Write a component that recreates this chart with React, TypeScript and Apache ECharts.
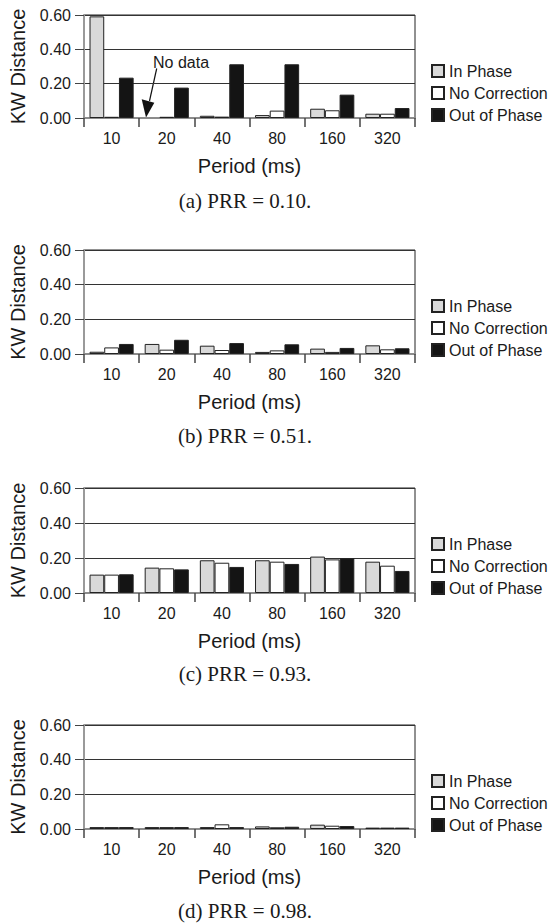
import React, { useEffect, useRef } from 'react';
import * as echarts from 'echarts';

const categories = ['10', '20', '40', '80', '160', '320'];
const seriesNames = ['In Phase', 'No Correction', 'Out of Phase'];
const yTicks = [0, 0.2, 0.4, 0.6];

// (a) PRR = 0.10
const aInPhase = [0.592, null, 0.013, 0.017, 0.054, 0.025];
const aNoCorrection = [0.007, 0.007, 0.008, 0.043, 0.045, 0.025];
const aOutOfPhase = [0.235, 0.177, 0.313, 0.313, 0.136, 0.058];
// (b) PRR = 0.51
const bInPhase = [0.013, 0.058, 0.048, 0.012, 0.031, 0.05];
const bNoCorrection = [0.038, 0.025, 0.023, 0.021, 0.012, 0.027];
const bOutOfPhase = [0.058, 0.082, 0.063, 0.056, 0.035, 0.033];
// (c) PRR = 0.93
const cInPhase = [0.105, 0.145, 0.187, 0.187, 0.208, 0.179];
const cNoCorrection = [0.105, 0.141, 0.173, 0.179, 0.192, 0.156];
const cOutOfPhase = [0.107, 0.135, 0.149, 0.166, 0.198, 0.126];
// (d) PRR = 0.98
const dInPhase = [0.011, 0.011, 0.011, 0.015, 0.025, 0.008];
const dNoCorrection = [0.011, 0.011, 0.027, 0.01, 0.019, 0.008];
const dOutOfPhase = [0.011, 0.011, 0.011, 0.013, 0.017, 0.008];

const captions = ['(a) PRR = 0.10.', '(b) PRR = 0.51.', '(c) PRR = 0.93.', '(d) PRR = 0.98.'];
const noDataLabel = 'No data';

const panelData = [
  [aInPhase, aNoCorrection, aOutOfPhase],
  [bInPhase, bNoCorrection, bOutOfPhase],
  [cInPhase, cNoCorrection, cOutOfPhase],
  [dInPhase, dNoCorrection, dOutOfPhase],
];

const gridTops = [15, 250, 488, 725];
const gridHeights = [103, 104, 105, 104];
const colors = ['#d9d9d9', '#ffffff', '#141414'];
const SANS = '"Liberation Sans", Arial, Helvetica, sans-serif';
const TXT = '#1a1a1a';

export default function App() {
  const ref = useRef<HTMLDivElement>(null);
  useEffect(() => {
    document.body.style.margin = '0';
    if (!ref.current) return;
    const chart = echarts.init(ref.current, null, { renderer: 'svg' });
    const grid: any[] = [];
    const xAxis: any[] = [];
    const yAxis: any[] = [];
    const series: any[] = [];
    const legend: any[] = [];
    const graphic: any[] = [];
    panelData.forEach((pd, i) => {
      grid.push({
        left: 81.5,
        right: 134,
        top: gridTops[i],
        height: gridHeights[i],
        show: true,
        borderColor: '#222',
        borderWidth: 1,
        backgroundColor: 'transparent',
      });
      xAxis.push({
        type: 'category',
        gridIndex: i,
        data: categories,
        name: 'Period (ms)',
        nameLocation: 'middle',
        nameGap: 38,
        nameTextStyle: { fontSize: 20, fontFamily: SANS, color: TXT },
        axisLine: { lineStyle: { color: '#8c8c8c', width: 2 } },
        axisTick: { show: true, length: 9, lineStyle: { color: '#444', width: 1.5 } },
        axisLabel: { fontSize: 16, fontFamily: SANS, color: TXT, margin: 12 },
        splitLine: { show: false },
      });
      yAxis.push({
        type: 'value',
        gridIndex: i,
        min: yTicks[0],
        max: yTicks[yTicks.length - 1],
        interval: yTicks[1] - yTicks[0],
        name: 'KW Distance',
        nameLocation: 'middle',
        nameGap: 56,
        nameTextStyle: { fontSize: 20, fontFamily: SANS, color: TXT },
        axisLine: { show: true, lineStyle: { color: '#9a9a9a', width: 2 } },
        axisTick: { show: true, length: 9, lineStyle: { color: '#444', width: 1 } },
        axisLabel: {
          fontSize: 16,
          fontFamily: SANS,
          color: TXT,
          margin: 13,
          formatter: (v: number) => v.toFixed(2),
        },
        splitLine: { show: true, lineStyle: { color: '#333', width: 1 } },
      });
      pd.forEach((vals, j) => {
        series.push({
          type: 'bar',
          name: seriesNames[j],
          xAxisIndex: i,
          yAxisIndex: i,
          data: vals,
          barGap: '0%',
          barCategoryGap: '20%',
          itemStyle: { color: colors[j], borderColor: '#222', borderWidth: 1 },
          emphasis: { disabled: true },
        });
      });
      legend.push({
        orient: 'vertical',
        left: 431,
        top: gridTops[i] + 48,
        padding: 0,
        itemWidth: 12,
        itemHeight: 12,
        itemGap: 6,
        icon: 'rect',
        data: seriesNames,
        textStyle: { fontSize: 16, fontFamily: SANS, color: TXT },
        selectedMode: false,
      });
      graphic.push({
        type: 'text',
        x: 245,
        y: gridTops[i] + 186,
        style: {
          text: captions[i],
          align: 'center',
          verticalAlign: 'middle',
          fontSize: 21,
          fontFamily: '"Liberation Serif", "Times New Roman", serif',
          fill: TXT,
        },
      });
    });
    // "No data" annotation in panel (a)
    graphic.push({
      type: 'text',
      x: 181,
      y: 62,
      style: {
        text: noDataLabel,
        align: 'center',
        verticalAlign: 'middle',
        fontSize: 16,
        fontFamily: SANS,
        fill: TXT,
      },
    });
    graphic.push({
      type: 'line',
      shape: { x1: 156.7, y1: 68.5, x2: 149.5, y2: 101 },
      style: { stroke: '#111', lineWidth: 1.2 },
    });
    graphic.push({
      type: 'polygon',
      shape: { points: [[141.7, 99.3], [154.3, 102.7], [146, 117.5]] },
      style: { fill: '#111' },
    });

    chart.setOption({
      animation: false,
      backgroundColor: '#ffffff',
      grid,
      xAxis,
      yAxis,
      series,
      legend,
      graphic,
    });
    return () => chart.dispose();
  }, []);
  return <div ref={ref} style={{ width: 549, height: 923 }} />;
}
